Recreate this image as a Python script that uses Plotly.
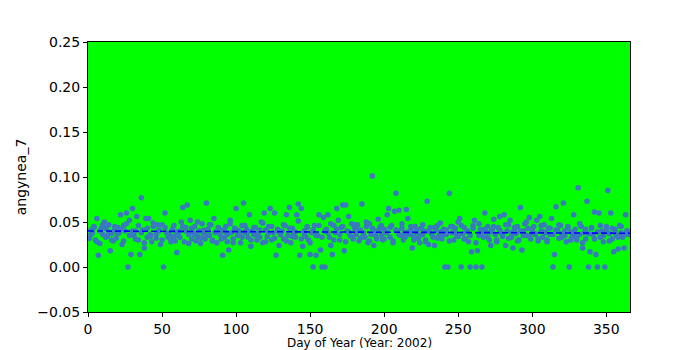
import plotly.graph_objects as go

# Day of year 1..365, one value per day
vals = [
    0.032, 0.041, 0.038, 0.045, 0.030, 0.054, 0.013, 0.026, 0.043, 0.036,
    0.050, 0.043, 0.034, 0.047, 0.018, 0.037, 0.029, 0.041, 0.032, 0.044,
    0.038, 0.058, 0.025, 0.046, 0.040, 0.060, 0.000, 0.052, 0.014, 0.065,
    0.035, 0.040, 0.056, 0.030, 0.014, 0.077, 0.041, 0.021, 0.054, 0.033,
    0.054, 0.036, 0.028, 0.045, 0.047, 0.032, 0.047, 0.040, 0.025, 0.047,
    0.000, 0.060, 0.038, 0.033, 0.036, 0.030, 0.042, 0.034, 0.029, 0.016,
    0.035, 0.040, 0.050, 0.066, 0.028, 0.044, 0.069, 0.036, 0.052, 0.031,
    0.038, 0.045, 0.029, 0.034, 0.040, 0.026, 0.048, 0.037, 0.031, 0.071,
    0.042, 0.035, 0.047, 0.030, 0.054, 0.039, 0.027, 0.044, 0.036, 0.041,
    0.013, 0.033, 0.045, 0.028, 0.019, 0.052, 0.038, 0.031, 0.043, 0.065,
    0.035, 0.040, 0.027, 0.046, 0.071, 0.038, 0.042, 0.033, 0.058, 0.023,
    0.040, 0.036, 0.044, 0.030, 0.038, 0.033, 0.050, 0.027, 0.060, 0.041,
    0.034, 0.045, 0.065, 0.030, 0.038, 0.060, 0.013, 0.042, 0.024, 0.036,
    0.040, 0.031, 0.046, 0.058, 0.035, 0.066, 0.027, 0.043, 0.038, 0.033,
    0.058, 0.070, 0.013, 0.065, 0.023, 0.040, 0.034, 0.045, 0.030, 0.014,
    0.038, 0.000, 0.046, 0.013, 0.035, 0.058, 0.019, 0.000, 0.055, 0.000,
    0.042, 0.058, 0.033, 0.024, 0.014, 0.046, 0.038, 0.065, 0.052, 0.030,
    0.044, 0.069, 0.018, 0.069, 0.040, 0.056, 0.035, 0.048, 0.031, 0.043,
    0.036, 0.047, 0.029, 0.041, 0.070, 0.038, 0.033, 0.045, 0.027, 0.048,
    0.036, 0.101, 0.024, 0.040, 0.031, 0.053, 0.044, 0.035, 0.030, 0.042,
    0.038, 0.058, 0.065, 0.033, 0.046, 0.029, 0.062, 0.082, 0.040, 0.063,
    0.035, 0.043, 0.030, 0.038, 0.064, 0.054, 0.036, 0.041, 0.021, 0.034,
    0.045, 0.039, 0.032, 0.027, 0.043, 0.036, 0.040, 0.030, 0.073, 0.025,
    0.044, 0.037, 0.033, 0.024, 0.041, 0.046, 0.035, 0.039, 0.031, 0.042,
    0.000, 0.036, 0.000, 0.082, 0.045, 0.038, 0.030, 0.043, 0.035, 0.050,
    0.054, 0.000, 0.037, 0.044, 0.031, 0.040, 0.028, 0.000, 0.017, 0.046,
    0.052, 0.000, 0.018, 0.035, 0.042, 0.000, 0.033, 0.060, 0.039, 0.045,
    0.030, 0.024, 0.041, 0.053, 0.036, 0.028, 0.044, 0.056, 0.038, 0.034,
    0.058, 0.024, 0.040, 0.047, 0.052, 0.033, 0.021, 0.042, 0.037, 0.045,
    0.030, 0.066, 0.019, 0.040, 0.048, 0.035, 0.043, 0.055, 0.031, 0.038,
    0.045, 0.036, 0.052, 0.029, 0.056, 0.040, 0.033, 0.047, 0.038, 0.030,
    0.043, 0.036, 0.054, 0.000, 0.014, 0.067, 0.041, 0.032, 0.046, 0.037,
    0.071, 0.035, 0.028, 0.044, 0.000, 0.039, 0.033, 0.058, 0.042, 0.030,
    0.088, 0.036, 0.045, 0.021, 0.038, 0.031, 0.073, 0.000, 0.017, 0.043,
    0.036, 0.061, 0.014, 0.000, 0.060, 0.033, 0.040, 0.028, 0.000, 0.045,
    0.085, 0.037, 0.060, 0.031, 0.017, 0.042, 0.035, 0.020, 0.046, 0.038,
    0.033, 0.021, 0.058, 0.040, 0.036,
]
days = list(range(1, len(vals) + 1))

# Second observation on every other day
extra_vals = [
    0.036, 0.044, 0.028, 0.040, 0.047, 0.033, 0.039, 0.030, 0.045, 0.037,
    0.042, 0.029, 0.048, 0.035, 0.040, 0.031, 0.046, 0.038, 0.027, 0.043,
    0.034, 0.049, 0.036, 0.041, 0.030, 0.044, 0.037, 0.028, 0.046, 0.039,
    0.033, 0.045, 0.040, 0.026, 0.043, 0.036, 0.050, 0.032, 0.041, 0.035,
    0.047, 0.029, 0.038, 0.044, 0.031, 0.040, 0.036, 0.048, 0.027, 0.042,
    0.037, 0.033, 0.046, 0.039, 0.030, 0.044, 0.035, 0.041, 0.049, 0.028,
    0.038, 0.045, 0.032, 0.040, 0.036, 0.047, 0.029, 0.043, 0.034, 0.039,
    0.051, 0.031, 0.037, 0.044, 0.027, 0.041, 0.035, 0.046, 0.033, 0.040,
    0.038, 0.048, 0.030, 0.042, 0.036, 0.045, 0.028, 0.039, 0.034, 0.047,
    0.041, 0.032, 0.037, 0.050, 0.029, 0.043, 0.035, 0.040, 0.046, 0.031,
    0.038, 0.044, 0.027, 0.041, 0.036, 0.048, 0.033, 0.039, 0.045, 0.030,
    0.042, 0.035, 0.047, 0.028, 0.040, 0.037, 0.044, 0.032, 0.049, 0.036,
    0.041, 0.029, 0.045, 0.038, 0.034, 0.046, 0.031, 0.040, 0.035, 0.043,
    0.027, 0.048, 0.037, 0.042, 0.033, 0.039, 0.045, 0.030, 0.041, 0.036,
    0.047, 0.032, 0.038, 0.044, 0.029, 0.040, 0.035, 0.050, 0.034, 0.042,
    0.037, 0.031, 0.046, 0.039, 0.028, 0.043, 0.036, 0.041, 0.047, 0.033,
    0.040, 0.045, 0.030, 0.038, 0.034, 0.048, 0.027, 0.042, 0.037, 0.044,
    0.031, 0.039, 0.046, 0.035, 0.041, 0.029, 0.043, 0.038, 0.033, 0.045,
    0.036, 0.040,
]
extra_days = list(range(2, 2 + 2 * len(extra_vals), 2))

# Trend line end points
trend_x = [0, 366]
trend_y = [0.0400, 0.0375]

x_ticks = [0, 50, 100, 150, 200, 250, 300, 350]
y_ticks = [-0.05, 0.00, 0.05, 0.10, 0.15, 0.20, 0.25]

all_days = days + extra_days
all_vals = vals + extra_vals

fig = go.Figure()
fig.add_trace(go.Scatter(
    x=all_days, y=all_vals, mode="markers",
    marker=dict(color="#3a78c0", size=5.5, line=dict(width=0)),
    showlegend=False, hoverinfo="skip"))
fig.add_trace(go.Scatter(
    x=trend_x, y=trend_y, mode="lines",
    line=dict(color="#0000ff", width=1.6, dash="6px,3px"),
    showlegend=False, hoverinfo="skip"))

font = "DejaVu Sans, sans-serif"
fig.update_layout(
    width=700, height=350,
    margin=dict(l=88, r=70, t=42, b=38, autoexpand=False),
    paper_bgcolor="white", plot_bgcolor="#00ff00",
    font=dict(family=font, size=14, color="black"),
    annotations=[dict(
        text="Day of Year (Year: 2002)", xref="paper", yref="paper",
        x=0.5, y=-22.5 / 270, xanchor="center", yanchor="top",
        showarrow=False, font=dict(size=12), borderpad=0)],
)
fig.update_xaxes(
    range=[0, 366], tickvals=x_ticks, ticktext=[str(v) for v in x_ticks],
    showgrid=False, zeroline=False, showline=True, mirror=True,
    linecolor="black", linewidth=1, ticks="outside", ticklen=4,
    tickcolor="black", tickfont=dict(size=14), automargin=False,
)
fig.update_yaxes(
    range=[-0.05, 0.25], tickvals=y_ticks,
    ticktext=[("\u2212%.2f" % -v) if v < 0 else "%.2f" % v for v in y_ticks],
    showgrid=False, zeroline=False, showline=True, mirror=True,
    linecolor="black", linewidth=1, ticks="outside", ticklen=4,
    tickcolor="black", tickfont=dict(size=14), automargin=False,
    title=dict(text="angynea_7", font=dict(size=14), standoff=7),
)
fig.write_html("out.html")
